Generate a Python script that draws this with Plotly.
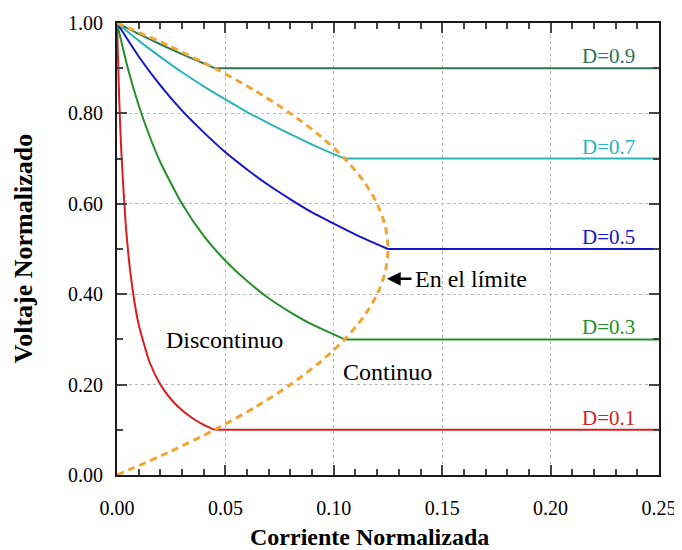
import plotly.graph_objects as go

# Discontinuous-mode curves (current, voltage)
i_d01 = [0, 0.001, 0.002, 0.004, 0.006, 0.008, 0.010, 0.015, 0.020, 0.025, 0.030, 0.035, 0.040, 0.045]
v_d01 = [1.0, 0.833, 0.714, 0.556, 0.455, 0.385, 0.333, 0.250, 0.200, 0.167, 0.143, 0.125, 0.111, 0.100]

i_d03 = [0, 0.005, 0.010, 0.015, 0.020, 0.030, 0.040, 0.050, 0.060, 0.070, 0.080, 0.090, 0.105]
v_d03 = [1.0, 0.900, 0.818, 0.750, 0.692, 0.600, 0.529, 0.474, 0.429, 0.391, 0.360, 0.333, 0.300]

i_d05 = [0, 0.010, 0.020, 0.030, 0.040, 0.050, 0.060, 0.070, 0.080, 0.090, 0.100, 0.110, 0.125]
v_d05 = [1.0, 0.926, 0.862, 0.806, 0.758, 0.714, 0.676, 0.641, 0.610, 0.581, 0.556, 0.532, 0.500]

i_d07 = [0, 0.010, 0.020, 0.030, 0.040, 0.050, 0.060, 0.070, 0.080, 0.090, 0.100, 0.105]
v_d07 = [1.0, 0.961, 0.925, 0.891, 0.860, 0.831, 0.803, 0.778, 0.754, 0.731, 0.710, 0.700]

i_d09 = [0, 0.010, 0.020, 0.030, 0.045]
v_d09 = [1.0, 0.976, 0.953, 0.931, 0.900]

# Continuous-mode flat parts (start current, end current, voltage)
i_cont_end = 0.25
flat_start = [0.045, 0.105, 0.125, 0.105, 0.045]
flat_level = [0.1, 0.3, 0.5, 0.7, 0.9]

# Boundary between continuous and discontinuous conduction
i_lim = [0, 0.02375, 0.045, 0.06375, 0.080, 0.09375, 0.105, 0.11375, 0.120, 0.12375, 0.125,
         0.12375, 0.120, 0.11375, 0.105, 0.09375, 0.080, 0.06375, 0.045, 0.02375, 0]
v_lim = [0, 0.05, 0.10, 0.15, 0.20, 0.25, 0.30, 0.35, 0.40, 0.45, 0.50,
         0.55, 0.60, 0.65, 0.70, 0.75, 0.80, 0.85, 0.90, 0.95, 1.0]

labels = ["D=0.1", "D=0.3", "D=0.5", "D=0.7", "D=0.9"]

x_ticks = [0.00, 0.05, 0.10, 0.15, 0.20, 0.25]
y_ticks = [0.00, 0.20, 0.40, 0.60, 0.80, 1.00]

colors = ["#d81e1e", "#23902a", "#1515c8", "#2ab3b8", "#2c7555"]

SERIF = "Liberation Serif"

fig = go.Figure()
curves = [(i_d01, v_d01), (i_d03, v_d03), (i_d05, v_d05), (i_d07, v_d07), (i_d09, v_d09)]
for k, (xs, ys) in enumerate(curves):
    fig.add_trace(go.Scatter(x=xs, y=ys, mode="lines", name=labels[k],
                             line=dict(color=colors[k], width=2, shape="spline", smoothing=0.6)))
    fig.add_trace(go.Scatter(x=[flat_start[k], i_cont_end], y=[flat_level[k], flat_level[k]],
                             mode="lines", name=labels[k],
                             line=dict(color=colors[k], width=2)))

fig.add_trace(go.Scatter(x=i_lim, y=v_lim, mode="lines", name="límite",
                         line=dict(color="#f0a630", width=3, dash="7px,5px", shape="spline", smoothing=0.8)))

for k, lab in enumerate(labels):
    fig.add_annotation(x=0.2398, y=flat_level[k], text=lab, showarrow=False, xanchor="right",
                       yanchor="bottom", yshift=-2,
                       font=dict(family=SERIF, size=21, color=colors[k]))

fig.add_annotation(x=0.1245, y=0.434, ax=0.1365, ay=0.434, axref="x", ayref="y", text="",
                   showarrow=True, arrowhead=2, arrowsize=1.1, arrowwidth=2.5, arrowcolor="black")
fig.add_annotation(x=0.1365, y=0.434, text="En el límite", showarrow=False, xanchor="left",
                   font=dict(family=SERIF, size=24, color="black"))
fig.add_annotation(x=0.0498, y=0.299, text="Discontinuo", showarrow=False,
                   font=dict(family=SERIF, size=24, color="black"))
fig.add_annotation(x=0.1248, y=0.228, text="Continuo", showarrow=False,
                   font=dict(family=SERIF, size=24, color="black"))

# Axis titles
fig.add_annotation(xref="paper", yref="paper", x=0.465, y=-0.137, text="<b>Corriente Normalizada</b>",
                   showarrow=False, xanchor="center", yanchor="middle",
                   font=dict(family=SERIF, size=24, color="black"))
fig.add_annotation(xref="paper", yref="paper", x=-0.173, y=0.5, text="<b>Voltaje Normalizado</b>",
                   showarrow=False, xanchor="center", yanchor="middle", textangle=-90,
                   font=dict(family=SERIF, size=26, color="black"))

fig.update_layout(
    width=674, height=542,
    margin=dict(l=109, r=23, t=15, b=75),
    paper_bgcolor="white", plot_bgcolor="white",
    showlegend=False,
    font=dict(family=SERIF, size=20, color="black"),
)
fig.update_xaxes(
    range=[0, 0.25], tickvals=x_ticks, ticktext=[f"{v:.2f}" for v in x_ticks],
    showline=True, linecolor="#1a1a1a", linewidth=2, mirror="allticks",
    ticks="inside", ticklen=10, tickwidth=1.5, tickcolor="#444444",
    showgrid=True, gridcolor="#b8b8b8", griddash="dot", gridwidth=1,
    zeroline=False, automargin=False, ticklabelstandoff=14,
    minor=dict(dtick=0.01, tick0=0, ticks="inside", ticklen=6, tickcolor="#444444", showgrid=False),
    tickfont=dict(family=SERIF, size=20),
)
fig.update_yaxes(
    range=[0, 1.0], tickvals=y_ticks, ticktext=[f"{v:.2f}" for v in y_ticks],
    showline=True, linecolor="#1a1a1a", linewidth=2, mirror="allticks",
    ticks="inside", ticklen=10, tickwidth=1.5, tickcolor="#444444",
    showgrid=True, gridcolor="#b8b8b8", griddash="dot", gridwidth=1,
    zeroline=False, automargin=False, ticklabelstandoff=8,
    minor=dict(dtick=0.1, tick0=0, ticks="inside", ticklen=6, tickcolor="#444444", showgrid=False),
    tickfont=dict(family=SERIF, size=20),
)

fig.write_html("out.html")
